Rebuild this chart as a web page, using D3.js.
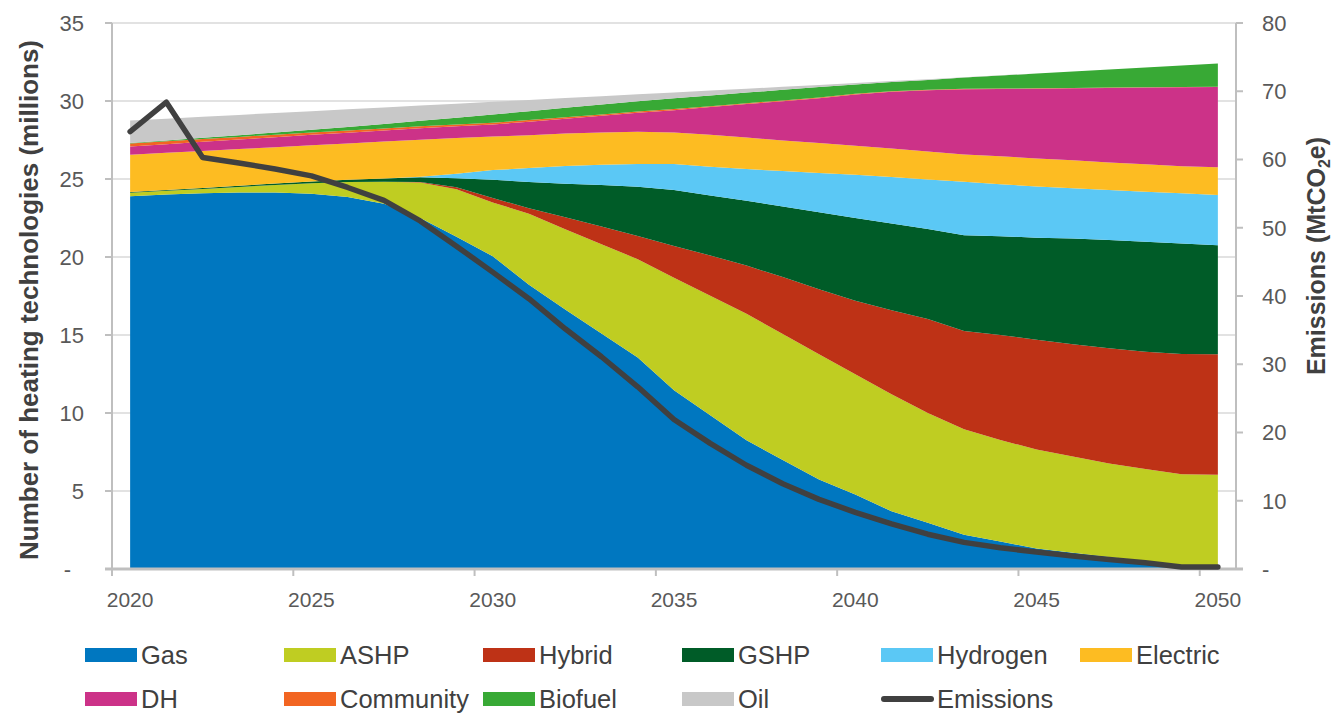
<!DOCTYPE html>
<html>
<head>
<meta charset="utf-8">
<script src="https://cdn.jsdelivr.net/npm/d3@7"></script>
<style>
  html, body { margin: 0; padding: 0; background: #fff; }
  svg { display: block; font-family: "Liberation Sans", Arial, sans-serif; }
</style>
</head>
<body>
<svg id="chart" width="1335" height="715"></svg>
<script>
const years = [2020,2021,2022,2023,2024,2025,2026,2027,2028,2029,2030,2031,2032,2033,2034,2035,2036,2037,2038,2039,2040,2041,2042,2043,2044,2045,2046,2047,2048,2049,2050];
const gas = [23.90,24.00,24.08,24.14,24.14,24.05,23.84,23.41,22.50,21.30,20.05,18.22,16.64,15.10,13.55,11.46,9.86,8.26,6.98,5.74,4.77,3.70,2.97,2.20,1.76,1.32,1.04,0.77,0.51,0.22,0.11];
const ashp = [0.22,0.24,0.28,0.35,0.48,0.68,0.96,1.41,2.28,3.05,3.45,4.56,5.14,5.72,6.31,7.21,7.65,8.10,8.08,8.02,7.72,7.50,7.03,6.76,6.51,6.34,6.17,6.00,5.90,5.86,5.93];
const hybrid = [0,0,0,0,0,0,0,0,0.03,0.12,0.28,0.34,0.77,1.13,1.49,2.04,2.58,3.09,3.65,4.18,4.71,5.39,6.02,6.29,6.73,7.03,7.20,7.38,7.52,7.70,7.72];
const gshp = [0.05,0.06,0.07,0.08,0.09,0.11,0.15,0.21,0.31,0.58,1.17,1.69,2.15,2.67,3.16,3.59,3.86,4.16,4.52,4.93,5.30,5.55,5.77,6.15,6.33,6.55,6.77,6.94,7.05,7.09,7.00];
const hydrogen = [0,0,0,0,0,0,0,0,0.03,0.28,0.62,0.89,1.13,1.30,1.45,1.66,1.84,2.03,2.28,2.51,2.77,2.99,3.17,3.43,3.34,3.28,3.23,3.21,3.21,3.21,3.21];
const electric = [2.38,2.38,2.37,2.35,2.33,2.32,2.33,2.37,2.37,2.30,2.15,2.11,2.09,2.06,2.07,2.02,2.05,2.02,1.96,1.92,1.86,1.82,1.80,1.74,1.79,1.79,1.79,1.75,1.75,1.74,1.78];
const dh = [0.53,0.55,0.58,0.61,0.64,0.67,0.69,0.71,0.73,0.75,0.77,0.86,0.94,1.07,1.21,1.43,1.77,2.14,2.52,2.88,3.29,3.65,3.93,4.18,4.31,4.48,4.62,4.79,4.92,5.06,5.15];
const community = [0.20,0.19,0.18,0.17,0.16,0.15,0.14,0.13,0.13,0.12,0.12,0.11,0.10,0.09,0.08,0.07,0.06,0.06,0.05,0.05,0.04,0.03,0.03,0.03,0.03,0.02,0.02,0.02,0.02,0.02,0.02];
const biofuel = [0.03,0.05,0.08,0.11,0.14,0.17,0.22,0.28,0.35,0.43,0.52,0.57,0.61,0.64,0.66,0.69,0.69,0.68,0.68,0.66,0.60,0.59,0.63,0.72,0.83,0.95,1.05,1.16,1.27,1.37,1.48];
const oil = [1.44,1.40,1.35,1.30,1.25,1.20,1.14,1.07,0.98,0.90,0.82,0.72,0.62,0.53,0.45,0.38,0.31,0.25,0.19,0.14,0.09,0.06,0.04,0.03,0.02,0.01,0,0,0,0,0];
const emissions = [64.1,68.4,60.3,59.5,58.6,57.6,55.9,54.0,51.0,47.3,43.5,39.6,35.2,31.1,26.7,21.9,18.4,15.2,12.5,10.2,8.3,6.6,5.1,3.9,3.1,2.5,1.9,1.4,0.9,0.3,0.3];

const seriesNames = ["Gas","ASHP","Hybrid","GSHP","Hydrogen","Electric","DH","Community","Biofuel","Oil"];
const seriesColors = ["#0077c0","#bfcd22","#be3216","#005c28","#5bc8f5","#fdbc22","#cc3288","#f26522","#38a935","#c8c8c8"];
const leftTicks = [0,5,10,15,20,25,30,35];
const rightTicks = [0,10,20,30,40,50,60,70,80];
const xLabels = [2020,2025,2030,2035,2040,2045,2050];
const leftTitle = "Number of heating technologies (millions)";

const seriesValues = [gas, ashp, hybrid, gshp, hydrogen, electric, dh, community, biofuel, oil];
const table = years.map((yr, i) => {
  const row = { year: yr };
  seriesNames.forEach((n, k) => row[n] = seriesValues[k][i]);
  return row;
});

const svg = d3.select("#chart");
const plot = { left: 112, right: 1236, top: 23, bottom: 569 };
const x = d3.scaleLinear().domain([2019.5, 2050.5]).range([plot.left, plot.right]);
const yL = d3.scaleLinear().domain([0, 35]).range([plot.bottom, plot.top]);
const yR = d3.scaleLinear().domain([0, 80]).range([plot.bottom, plot.top]);
const axisCol = "#bfbfbf";
const textCol = "#404040";

// gridlines
svg.append("g").selectAll("line").data(leftTicks.filter(d => d > 0)).join("line")
  .attr("x1", plot.left).attr("x2", plot.right)
  .attr("y1", d => yL(d)).attr("y2", d => yL(d))
  .attr("stroke", "#d9d9d9").attr("stroke-width", 1.5);

// stacked areas
const stack = d3.stack().keys(seriesNames);
const layers = stack(table);
const area = d3.area()
  .x(d => x(d.data.year))
  .y0(d => yL(d[0]))
  .y1(d => yL(d[1]));
svg.append("g").selectAll("path").data(layers).join("path")
  .attr("d", area)
  .attr("fill", (d, i) => seriesColors[i]);

// left axis
svg.append("line").attr("x1", plot.left).attr("x2", plot.left)
  .attr("y1", plot.top).attr("y2", plot.bottom + 7)
  .attr("stroke", axisCol).attr("stroke-width", 2);
svg.append("g").selectAll("line").data(leftTicks).join("line")
  .attr("x1", plot.left - 7).attr("x2", plot.left)
  .attr("y1", d => yL(d)).attr("y2", d => yL(d))
  .attr("stroke", axisCol).attr("stroke-width", 2);
svg.append("g").selectAll("text").data(leftTicks).join("text")
  .attr("x", d => d === 0 ? 71 : 84)
  .attr("y", d => yL(d))
  .attr("dy", "0.36em")
  .attr("text-anchor", "end")
  .attr("font-size", 22)
  .attr("fill", "#595959")
  .text(d => d === 0 ? "-" : d);

// right axis
svg.append("line").attr("x1", plot.right).attr("x2", plot.right)
  .attr("y1", plot.top).attr("y2", plot.bottom)
  .attr("stroke", axisCol).attr("stroke-width", 2);
svg.append("g").selectAll("line").data(rightTicks).join("line")
  .attr("x1", plot.right).attr("x2", plot.right + 7)
  .attr("y1", d => yR(d)).attr("y2", d => yR(d))
  .attr("stroke", axisCol).attr("stroke-width", 2);
svg.append("g").selectAll("text").data(rightTicks).join("text")
  .attr("x", 1262)
  .attr("y", d => yR(d))
  .attr("dy", "0.36em")
  .attr("text-anchor", "start")
  .attr("font-size", 22)
  .attr("fill", "#595959")
  .text(d => d === 0 ? "-" : d);

// x axis
svg.append("line").attr("x1", plot.left - 7).attr("x2", plot.right + 7)
  .attr("y1", plot.bottom).attr("y2", plot.bottom)
  .attr("stroke", axisCol).attr("stroke-width", 3);
svg.append("g").selectAll("line").data(xLabels).join("line")
  .attr("x1", d => x(d - 0.5)).attr("x2", d => x(d - 0.5))
  .attr("y1", plot.bottom).attr("y2", plot.bottom + 7)
  .attr("stroke", axisCol).attr("stroke-width", 2);
svg.append("g").selectAll("text").data(xLabels).join("text")
  .attr("x", d => x(d))
  .attr("y", 607)
  .attr("text-anchor", "middle")
  .attr("font-size", 21)
  .attr("fill", "#595959")
  .text(d => d);

// emissions line
const line = d3.line().x((d, i) => x(years[i])).y(d => yR(d));
svg.append("path").datum(emissions)
  .attr("d", line)
  .attr("fill", "none")
  .attr("stroke", "#404040")
  .attr("stroke-width", 5.5)
  .attr("stroke-linejoin", "round")
  .attr("stroke-linecap", "round");

// axis titles
svg.append("text")
  .attr("transform", "translate(38,300) rotate(-90)")
  .attr("text-anchor", "middle")
  .attr("font-size", 26)
  .attr("font-weight", "bold")
  .attr("fill", textCol)
  .text(leftTitle);
const rt = svg.append("text")
  .attr("transform", "translate(1325,256) rotate(-90)")
  .attr("text-anchor", "middle")
  .attr("font-size", 25)
  .attr("font-weight", "bold")
  .attr("fill", textCol);
rt.append("tspan").text("Emissions (MtCO");
rt.append("tspan").attr("font-size", 16).attr("dy", 5).text("2");
rt.append("tspan").attr("dy", -5).text("e)");

// legend
const legendItems = seriesNames.map((n, i) => ({ name: n, color: seriesColors[i], type: "area" }))
  .concat([{ name: "Emissions", color: "#404040", type: "line" }]);
const order = ["Gas","ASHP","Hybrid","GSHP","Hydrogen","Electric","DH","Community","Biofuel","Oil","Emissions"];
const lg = svg.append("g");
order.forEach((name, idx) => {
  const it = legendItems.find(d => d.name === name);
  const col = idx % 6, row = Math.floor(idx / 6);
  const gx = 85 + col * 199, gy = 655 + row * 44;
  const g = lg.append("g").attr("transform", `translate(${gx},${gy})`);
  if (it.type === "area") {
    g.append("rect").attr("x", 0).attr("y", -7).attr("width", 52).attr("height", 14).attr("fill", it.color);
  } else {
    g.append("line").attr("x1", 3).attr("x2", 50).attr("y1", 0).attr("y2", 0)
      .attr("stroke", it.color).attr("stroke-width", 6).attr("stroke-linecap", "round");
  }
  g.append("text").attr("x", 56).attr("y", 0).attr("dy", "0.36em")
    .attr("font-size", 25.5).attr("fill", textCol).text(it.name);
});
</script>
</body>
</html>
